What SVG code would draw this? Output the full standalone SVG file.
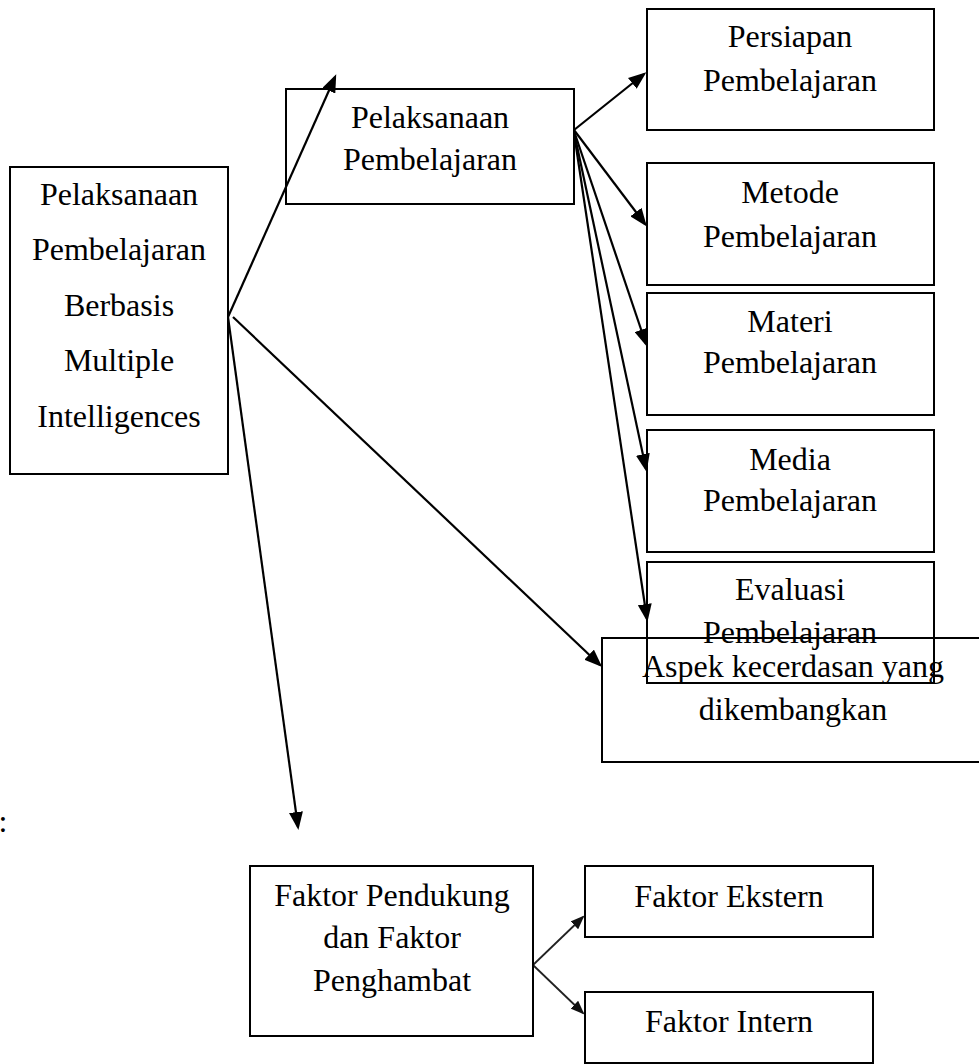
<svg xmlns="http://www.w3.org/2000/svg" width="979" height="1064" viewBox="0 0 979 1064">
<style>
.box{fill:none;stroke:#000;stroke-width:2}
.t{font-family:"Liberation Serif","Times New Roman",serif;font-size:32px;fill:#000;text-anchor:middle}
.c{stroke:#000;stroke-width:2.2;fill:none}
.cs{stroke:#222;stroke-width:1.8;fill:none}
</style>
<defs>
<marker id="ah" markerUnits="userSpaceOnUse" markerWidth="18" markerHeight="14" refX="15" refY="7" orient="auto">
<path d="M0,0 L18,7 L0,14 z" fill="#000"/>
</marker>
<marker id="ahs" markerUnits="userSpaceOnUse" markerWidth="14" markerHeight="11" refX="12" refY="5.5" orient="auto">
<path d="M0,0 L14,5.5 L0,11 z" fill="#111"/>
</marker>
</defs>
<rect width="979" height="1064" fill="#fff"/>
<g id="connectors">
<line class="c" x1="228" y1="317" x2="335" y2="77" marker-end="url(#ah)"/>
<line class="c" x1="228" y1="317" x2="298" y2="827" marker-end="url(#ah)"/>
<line class="c" x1="233" y1="317" x2="600" y2="665" marker-end="url(#ah)"/>
<line class="c" x1="574" y1="130" x2="644" y2="74" marker-end="url(#ah)"/>
<line class="c" x1="574" y1="130" x2="645" y2="224" marker-end="url(#ah)"/>
<line class="c" x1="574" y1="131" x2="646" y2="344" marker-end="url(#ah)"/>
<line class="c" x1="574" y1="132" x2="646" y2="469" marker-end="url(#ah)"/>
<line class="c" x1="574" y1="133" x2="647" y2="619" marker-end="url(#ah)"/>
<line class="cs" x1="533" y1="965" x2="583" y2="917" marker-end="url(#ahs)"/>
<line class="cs" x1="533" y1="965" x2="583" y2="1013" marker-end="url(#ahs)"/>
</g>
<g id="node-main">
<rect class="box" x="10" y="167" width="218" height="307"/>
<text class="t" x="119" y="205">Pelaksanaan</text>
<text class="t" x="119" y="260">Pembelajaran</text>
<text class="t" x="119" y="316">Berbasis</text>
<text class="t" x="119" y="371">Multiple</text>
<text class="t" x="119" y="427">Intelligences</text>
</g>
<g id="node-pelaksanaan">
<rect class="box" x="286" y="89" width="288" height="115"/>
<text class="t" x="430" y="128">Pelaksanaan</text>
<text class="t" x="430" y="170">Pembelajaran</text>
</g>
<g id="node-persiapan">
<rect class="box" x="647" y="9" width="287" height="121"/>
<text class="t" x="790" y="47">Persiapan</text>
<text class="t" x="790" y="91">Pembelajaran</text>
</g>
<g id="node-metode">
<rect class="box" x="647" y="163" width="287" height="122"/>
<text class="t" x="790" y="203">Metode</text>
<text class="t" x="790" y="247">Pembelajaran</text>
</g>
<g id="node-materi">
<rect class="box" x="647" y="293" width="287" height="122"/>
<text class="t" x="790" y="332">Materi</text>
<text class="t" x="790" y="373">Pembelajaran</text>
</g>
<g id="node-media">
<rect class="box" x="647" y="430" width="287" height="122"/>
<text class="t" x="790" y="470">Media</text>
<text class="t" x="790" y="511">Pembelajaran</text>
</g>
<g id="node-evaluasi">
<rect class="box" x="647" y="562" width="287" height="121"/>
<text class="t" x="790" y="600">Evaluasi</text>
<text class="t" x="790" y="643">Pembelajaran</text>
</g>
<g id="node-aspek">
<rect class="box" x="602" y="638" width="382" height="124"/>
<text class="t" x="793" y="677">Aspek kecerdasan yang</text>
<text class="t" x="793" y="720">dikembangkan</text>
</g>
<text class="t" x="3" y="832">:</text>
<g id="node-faktor">
<rect class="box" x="250" y="866" width="283" height="170"/>
<text class="t" x="392" y="906">Faktor Pendukung</text>
<text class="t" x="392" y="948">dan Faktor</text>
<text class="t" x="392" y="991">Penghambat</text>
</g>
<g id="node-ekstern">
<rect class="box" x="585" y="866" width="288" height="71"/>
<text class="t" x="729" y="907">Faktor Ekstern</text>
</g>
<g id="node-intern">
<rect class="box" x="585" y="992" width="288" height="71"/>
<text class="t" x="729" y="1032">Faktor Intern</text>
</g>
</svg>
